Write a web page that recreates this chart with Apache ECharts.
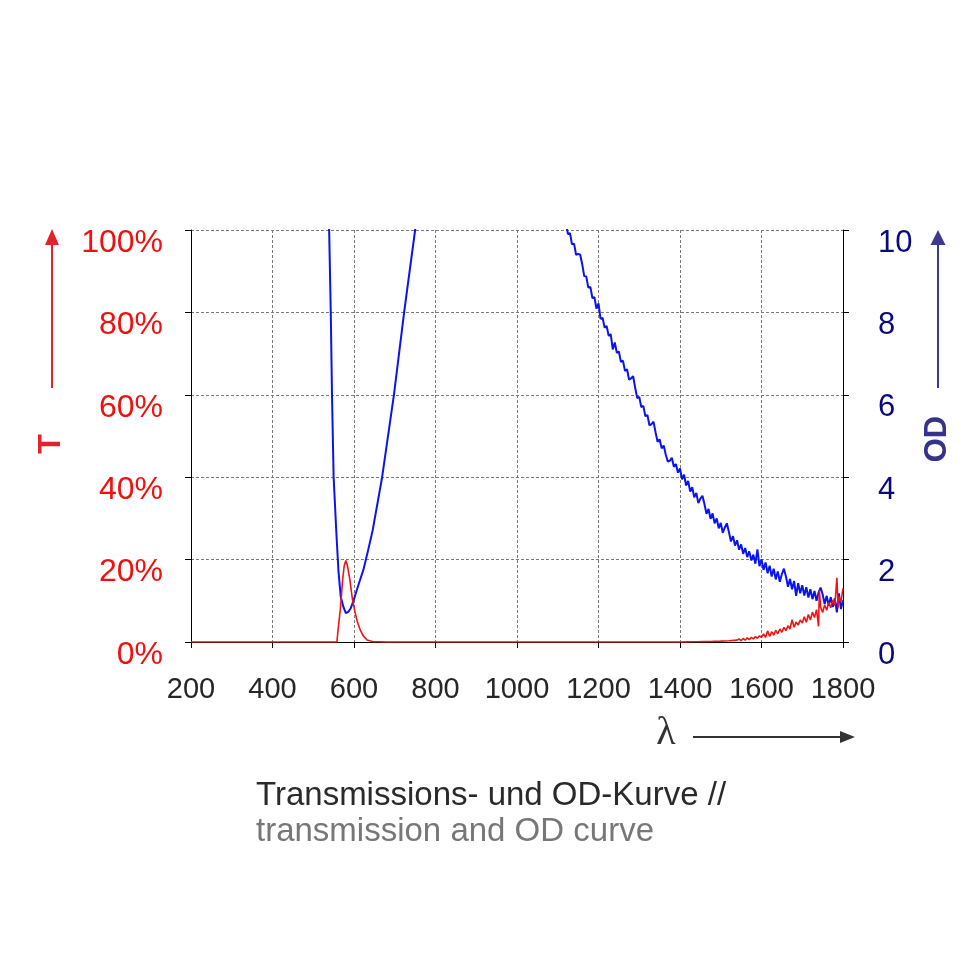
<!DOCTYPE html>
<html><head><meta charset="utf-8">
<script src="https://cdn.jsdelivr.net/npm/echarts@6/dist/echarts.min.js"></script>
<style>html,body{margin:0;padding:0;background:#fff}#c{width:980px;height:980px}</style>
</head><body><div id="c"></div>
<script>
// Transmission T (%) vs wavelength (nm)
const tWl = [200, 550, 558, 561, 567, 572, 576, 580, 584, 590, 596, 602, 608, 615, 622, 632, 645, 680,
  1400, 1420, 1440, 1460, 1480, 1500, 1520, 1540,
  1545, 1550, 1555, 1560, 1565, 1570, 1575, 1580, 1585, 1590, 1595, 1600, 1605, 1610, 1615, 1620,
  1625, 1630, 1635, 1640, 1645, 1650, 1655, 1660, 1665, 1670, 1675, 1680, 1685, 1690, 1695, 1700,
  1705, 1710, 1715, 1720, 1725, 1730, 1735, 1740, 1742, 1745, 1750, 1755, 1760, 1765, 1770, 1775,
  1780, 1785, 1788, 1790, 1795, 1800];
const tVal = [0, 0, 0, 3, 8.5, 15, 18.5, 19.8, 18.5, 15, 10.5, 7.5, 5, 3, 1.6, 0.5, 0.1, 0,
  0, 0.03, 0.05, 0.1, 0.15, 0.22, 0.32, 0.45,
  0.75, 0.3, 0.86, 0.43, 1.0, 0.57, 1.15, 0.73, 1.31, 0.9, 1.5, 1.1, 1.97, 1.1, 2.7, 1.35,
  2.5, 1.65, 2.82, 2.0, 3.17, 2.35, 3.55, 2.75, 3.95, 3.15, 5.4, 3.6, 4.85, 4.1, 5.35, 4.6,
  6.15, 4.8, 6.67, 5.35, 7.25, 5.95, 7.87, 3.8, 12.6, 8.47, 7.15, 9.02, 7.7, 9.6, 8.3, 10.17,
  8.85, 15.6, 8.3, 11.0, 9.8, 13.0];

// Optical density OD vs wavelength (nm); values above 10 run off the top of the plot
const odWl = [525, 539, 543, 546, 550, 557, 562, 567.5, 574, 580, 586, 592, 598, 605, 613, 623, 634, 646,
  669, 698, 723, 750, 780, 900, 1050, 1110,
  1120, 1125, 1130, 1135, 1140, 1145, 1150, 1155, 1160, 1165, 1170, 1175, 1180, 1185, 1190, 1195,
  1200, 1205, 1210, 1215, 1220, 1225, 1230, 1235, 1240, 1245, 1250, 1255, 1260, 1265, 1270, 1275,
  1280, 1285, 1290, 1295, 1300, 1305, 1310, 1315, 1320, 1325, 1330, 1335, 1340, 1345, 1350, 1355,
  1360, 1365, 1370, 1375, 1380, 1385, 1390, 1395, 1400, 1405, 1410, 1415, 1420, 1425, 1430, 1435,
  1440, 1445, 1450, 1455, 1460, 1465, 1470, 1475, 1480, 1485, 1490, 1495, 1500, 1505, 1510, 1515,
  1520, 1525, 1530, 1535, 1540, 1545, 1550, 1555, 1560, 1565, 1570, 1575, 1580, 1585, 1590, 1595,
  1600, 1605, 1610, 1615, 1620, 1625, 1630, 1635, 1640, 1645, 1650, 1655, 1660, 1665, 1670, 1675,
  1680, 1685, 1690, 1695, 1700, 1705, 1710, 1715, 1720, 1725, 1730, 1735, 1740, 1745, 1750, 1755,
  1760, 1765, 1770, 1775, 1780, 1785, 1790, 1795, 1800];
const odVal = [13, 10, 8, 6, 4, 2.6, 1.7, 1.1, 0.85, 0.7, 0.73, 0.82, 0.98, 1.2, 1.45, 1.75, 2.2, 2.72,
  4.0, 6.0, 8.0, 10.0, 12, 15, 13, 10.4,
  10.17, 9.90, 9.92, 9.65, 9.67, 9.40, 9.42, 9.40, 9.17, 8.88, 8.87, 8.60, 8.62, 8.35, 8.37, 8.09,
  8.22, 7.84, 7.87, 7.63, 7.67, 7.43, 7.47, 7.10, 7.27, 7.02, 7.05, 6.80, 6.83, 6.58, 6.62, 6.37,
  6.40, 6.45, 6.17, 5.92, 5.95, 5.70, 5.73, 5.48, 5.51, 5.26, 5.29, 5.35, 5.09, 4.86, 4.92, 4.70,
  4.77, 4.55, 4.38, 4.40, 4.47, 4.25, 4.32, 4.11, 4.21, 3.95, 4.06, 3.80, 3.91, 3.65, 3.76, 3.51,
  3.62, 3.37, 3.48, 3.55, 3.35, 3.11, 3.23, 2.99, 3.12, 2.88, 3.00, 2.76, 2.89, 2.65, 2.78, 2.88,
  2.67, 2.44, 2.57, 2.34, 2.47, 2.24, 2.37, 2.14, 2.28, 2.06, 2.20, 1.98, 2.12, 1.90, 2.25, 1.84,
  2.01, 1.75, 1.93, 1.67, 1.85, 1.59, 1.78, 1.52, 1.71, 1.46, 1.65, 1.78, 1.59, 1.34, 1.53, 1.28,
  1.48, 1.12, 1.43, 1.18, 1.38, 1.13, 1.33, 1.08, 1.28, 1.04, 1.24, 1.00, 1.20, 1.32, 1.16, 0.92,
  1.12, 0.88, 1.09, 0.85, 1.06, 0.72, 1.18, 0.80, 1.01];

const titleDe = 'Transmissions- und OD-Kurve //';
const titleEn = 'transmission and OD curve';

const FONT = '"Liberation Sans", Arial, Helvetica, sans-serif';
const tData = tWl.map((w, i) => [w, tVal[i]]);
const odData = odWl.map((w, i) => [w, odVal[i]]);

const chart = echarts.init(document.getElementById('c'), null, {renderer: 'canvas'});
const grid = {left: 191, right: 137, top: 230, bottom: 338};
const dashed = {show: true, lineStyle: {color: '#7a7a7a', width: 1, type: [3, 2]}};

chart.setOption({
  animation: false,
  backgroundColor: '#ffffff',
  grid: grid,
  xAxis: {
    type: 'value', min: 200, max: 1800, interval: 200,
    axisLine: {show: true, onZero: false, lineStyle: {color: '#000', width: 1}},
    axisTick: {show: true, length: 6, lineStyle: {color: '#000'}},
    axisLabel: {color: '#262626', fontSize: 29, fontFamily: FONT, margin: 33, formatter: v => String(v)},
    splitLine: dashed
  },
  yAxis: [{
    type: 'value', min: 0, max: 100, interval: 20, position: 'left',
    axisLine: {show: true, lineStyle: {color: '#000', width: 1}},
    axisTick: {show: true, length: 6, lineStyle: {color: '#000'}},
    axisLabel: {formatter: '{value}%', color: '#f01010', fontSize: 32, fontFamily: FONT, margin: 28,
      verticalAlign: 'top', lineHeight: 26},
    splitLine: dashed
  }, {
    type: 'value', min: 0, max: 10, interval: 2, position: 'right',
    axisLine: {show: true, lineStyle: {color: '#000', width: 1}},
    axisTick: {show: true, length: 6, lineStyle: {color: '#000'}},
    axisLabel: {color: '#0a0a80', fontSize: 31, fontFamily: FONT, margin: 35,
      verticalAlign: 'top', lineHeight: 26},
    splitLine: {show: false}
  }],
  series: [{
    type: 'line', yAxisIndex: 1, data: odData, showSymbol: false, symbol: 'none',
    lineStyle: {color: '#0a14f0', width: 2}, clip: true, z: 3
  }, {
    type: 'line', yAxisIndex: 0, data: tData, showSymbol: false, symbol: 'none',
    lineStyle: {color: '#f01414', width: 1.6}, clip: true, z: 4
  }],
  graphic: [
    {type: 'line', shape: {x1: 52, y1: 388, x2: 52, y2: 243}, style: {stroke: '#e3232b', lineWidth: 2}},
    {type: 'polygon', shape: {points: [[45, 245], [59, 245], [52, 229]]}, style: {fill: '#e3232b'}},
    {type: 'text', x: 51.5, y: 444, rotation: Math.PI / 2,
      style: {text: 'T', font: 'bold 32px ' + FONT, fill: '#e3232b', align: 'center', verticalAlign: 'middle',
        textAlign: 'center', textVerticalAlign: 'middle'}},
    {type: 'line', shape: {x1: 938, y1: 388, x2: 938, y2: 243}, style: {stroke: '#3d3a8c', lineWidth: 2}},
    {type: 'polygon', shape: {points: [[930.5, 245], [945.5, 245], [938, 230]]}, style: {fill: '#3d3a8c'}},
    {type: 'text', x: 937, y: 439, rotation: Math.PI / 2,
      style: {text: 'OD', font: 'bold 31px ' + FONT, fill: '#35338a', align: 'center', verticalAlign: 'middle',
        textAlign: 'center', textVerticalAlign: 'middle'}},
    {type: 'text', x: 666, y: 733,
      style: {text: 'λ', font: '40px "Liberation Serif", "DejaVu Serif", serif', fill: '#333', align: 'center', verticalAlign: 'middle',
        textAlign: 'center', textVerticalAlign: 'middle'}},
    {type: 'line', shape: {x1: 693, y1: 737, x2: 842, y2: 737}, style: {stroke: '#333', lineWidth: 2}},
    {type: 'polygon', shape: {points: [[840, 731], [855, 737], [840, 743]]}, style: {fill: '#333'}},
    {type: 'text', x: 256, y: 795.5,
      style: {text: titleDe, font: '33px ' + FONT, fill: '#2a2a2a', align: 'left', verticalAlign: 'middle',
        textAlign: 'left', textVerticalAlign: 'middle'}},
    {type: 'text', x: 256, y: 831.5,
      style: {text: titleEn, font: '33px ' + FONT, fill: '#777777', align: 'left', verticalAlign: 'middle',
        textAlign: 'left', textVerticalAlign: 'middle'}}
  ]
});
</script>
</body></html>
